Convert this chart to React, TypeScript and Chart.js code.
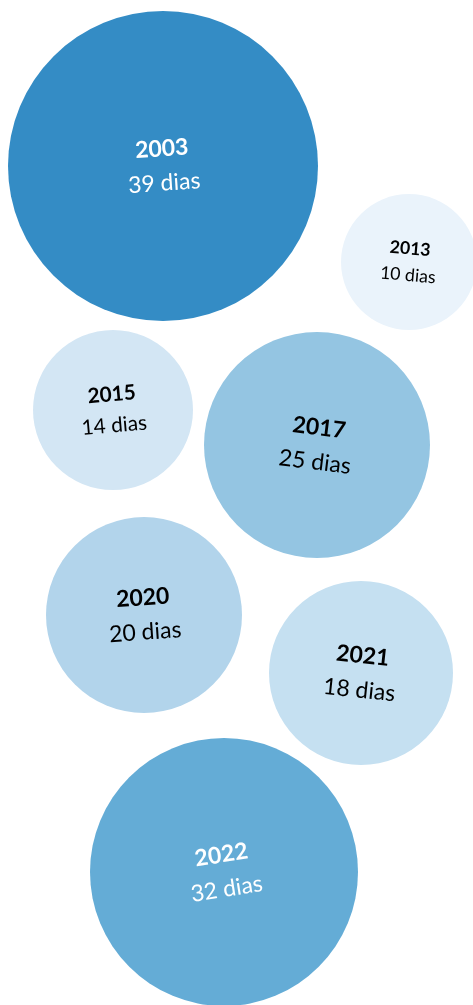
import React, { useEffect, useRef } from "react";
import { Chart, registerables } from "chart.js";

Chart.register(...registerables);

// Data
const years = ["2003", "2013", "2015", "2017", "2020", "2021", "2022"];
const days = [39, 10, 14, 25, 20, 18, 32];
// Packed layout coordinates (layout units)
const packX = [163, 409, 113, 317, 144, 361, 224];
const packY = [166, 262, 410, 445, 615, 673, 872];

// Styles
const fillColors = ["#348cc5", "#eaf3fb", "#d3e6f4", "#94c5e2", "#b2d4eb", "#c5e0f1", "#64acd6"];
const labelAngles = [-4, 5, -5, 7, -4, 6, -9];

const minV = Math.min(...days);
const maxV = Math.max(...days);
const radiusOf = (v: number) => 68 + ((v - minV) * (155 - 68)) / (maxV - minV);

const labelPlugin = {
  id: "bubbleLabels",
  afterDatasetsDraw(chart: any) {
    const ctx = chart.ctx;
    const meta = chart.getDatasetMeta(0);
    meta.data.forEach((el: any, i: number) => {
      const r = radiusOf(days[i]);
      const fs = Math.min(23, r * 0.26);
      const off = fs * 0.75;
      ctx.save();
      ctx.translate(el.x, el.y);
      ctx.rotate((labelAngles[i] * Math.PI) / 180);
      ctx.fillStyle = days[i] >= 30 ? "#ffffff" : "#000000";
      ctx.textAlign = "center";
      ctx.textBaseline = "middle";
      ctx.font = `700 ${fs}px Lato`;
      ctx.fillText(years[i], 0, -off);
      ctx.font = `400 ${fs}px Lato`;
      ctx.fillText(`${days[i]} dias`, 0, off);
      ctx.restore();
    });
  },
};

export default function App() {
  const ref = useRef<HTMLCanvasElement | null>(null);
  useEffect(() => {
    if (!ref.current) return;
    const chart = new Chart(ref.current, {
      type: "bubble",
      data: {
        datasets: [
          {
            label: "dias",
            data: years.map((_, i) => ({ x: packX[i], y: packY[i], r: radiusOf(days[i]) })),
            backgroundColor: fillColors,
            borderWidth: 0,
            hoverRadius: 0,
            hoverBorderWidth: 0,
            clip: false as any,
          },
        ],
      },
      options: {
        responsive: false,
        animation: false,
        events: [],
        layout: { padding: 0, autoPadding: false },
        plugins: { legend: { display: false }, tooltip: { enabled: false } },
        scales: {
          x: { type: "linear", min: 0, max: 473, display: false },
          y: { type: "linear", min: 0, max: 1005, reverse: true, display: false },
        },
      },
      plugins: [labelPlugin],
    });
    return () => chart.destroy();
  }, []);
  return (
    <div style={{ position: "fixed", left: 0, top: 0, width: 473, height: 1005, background: "#fff" }}>
      <canvas ref={ref} width={473} height={1005} style={{ display: "block" }} />
    </div>
  );
}
